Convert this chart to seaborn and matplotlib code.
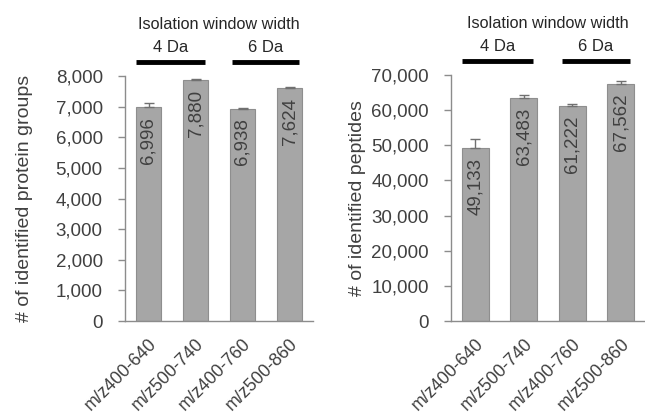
import matplotlib
matplotlib.use("Agg")
import matplotlib.pyplot as plt
import matplotlib.transforms as mtransforms
import seaborn as sns
import pandas as pd

categories = ["m/z400-640", "m/z500-740", "m/z400-760", "m/z500-860"]
protein_groups = [6996, 7880, 6938, 7624]
protein_err = [130, 30, 25, 30]
peptides = [49133, 63483, 61222, 67562]
peptide_err = [2600, 700, 500, 700]
protein_ticks = [0, 1000, 2000, 3000, 4000, 5000, 6000, 7000, 8000]
peptide_ticks = [0, 10000, 20000, 30000, 40000, 50000, 60000, 70000]
group_labels = ["4 Da", "6 Da"]
header = "Isolation window width"

sns.set_style("white")
plt.rcParams["font.family"] = ["Liberation Sans", "DejaVu Sans"]

TXT = "#404040"
BAR = "#A6A6A6"
EDGE = "#8E8E8E"

fig = plt.figure(figsize=(6.45, 4.18), dpi=100)
ax1 = fig.add_axes([125 / 645, 1 - 321 / 418, 188 / 645, 245 / 418])
ax2 = fig.add_axes([451 / 645, 1 - 321 / 418, 194 / 645, 246 / 418])


def panel(ax, vals, errs, ticks, ylabel, top, lpad):
    df = pd.DataFrame({"range": categories, "value": vals})
    sns.barplot(data=df, x="range", y="value", ax=ax, color=BAR,
                edgecolor=EDGE, linewidth=0.8, width=0.55, errorbar=None,
                saturation=1)
    xs = list(range(len(vals)))
    ax.errorbar(xs, vals, yerr=[[0] * len(errs), errs], fmt="none",
                ecolor="#707070", elinewidth=1, capsize=3.5, capthick=1)
    ax.set_xlim(-0.5, 3.5)
    ax.set_ylim(0, top)
    ax.set_yticks(ticks)
    ax.set_yticklabels([f"{t:,}" for t in ticks], fontsize=13.5, color=TXT)
    ax.set_xticks(xs)
    ax.set_xticklabels(categories, rotation=45, ha="right", va="top",
                       rotation_mode="anchor", fontsize=12.8, color=TXT)
    offset = mtransforms.ScaledTranslation(-9 / 100, 0, fig.dpi_scale_trans)
    for lab in ax.get_xticklabels():
        lab.set_transform(lab.get_transform() + offset)
    ax.set_xlabel("")
    ax.set_ylabel(ylabel, fontsize=14, color=TXT, labelpad=lpad)
    for s in ["top", "right"]:
        ax.spines[s].set_visible(False)
    for s in ["left", "bottom"]:
        ax.spines[s].set_color("#8C8C8C")
        ax.spines[s].set_linewidth(1)
    ax.tick_params(axis="y", which="both", left=True, length=5, width=1,
                   color="#8C8C8C", pad=11)
    ax.tick_params(axis="x", bottom=False, pad=6.5)
    for x, v in zip(xs, vals):
        ax.annotate(f"{v:,}", xy=(x, v), xytext=(0, -10),
                    textcoords="offset pixels", rotation=90, ha="center",
                    va="top", fontsize=13.5, color=TXT)
    tr = mtransforms.blended_transform_factory(ax.transData, ax.transAxes)
    ax.text(1.5, 1.21, header, transform=tr, ha="center", va="center",
            fontsize=11.7, color="#262626")
    for (a, b), lab in zip([(-0.27, 1.2), (1.78, 3.2)], group_labels):
        ax.plot([a, b], [1.057, 1.057], transform=tr, color="black",
                lw=3.5, clip_on=False, solid_capstyle="butt")
        ax.text((a + b) / 2, 1.115, lab, transform=tr, ha="center",
                va="center", fontsize=12, color="#262626")


panel(ax1, protein_groups, protein_err, protein_ticks,
      "# of identified protein groups", 8000, 16)
panel(ax2, peptides, peptide_err, peptide_ticks,
      "# of identified peptides", 70000, 4)

fig.savefig("out.png", dpi=100)
